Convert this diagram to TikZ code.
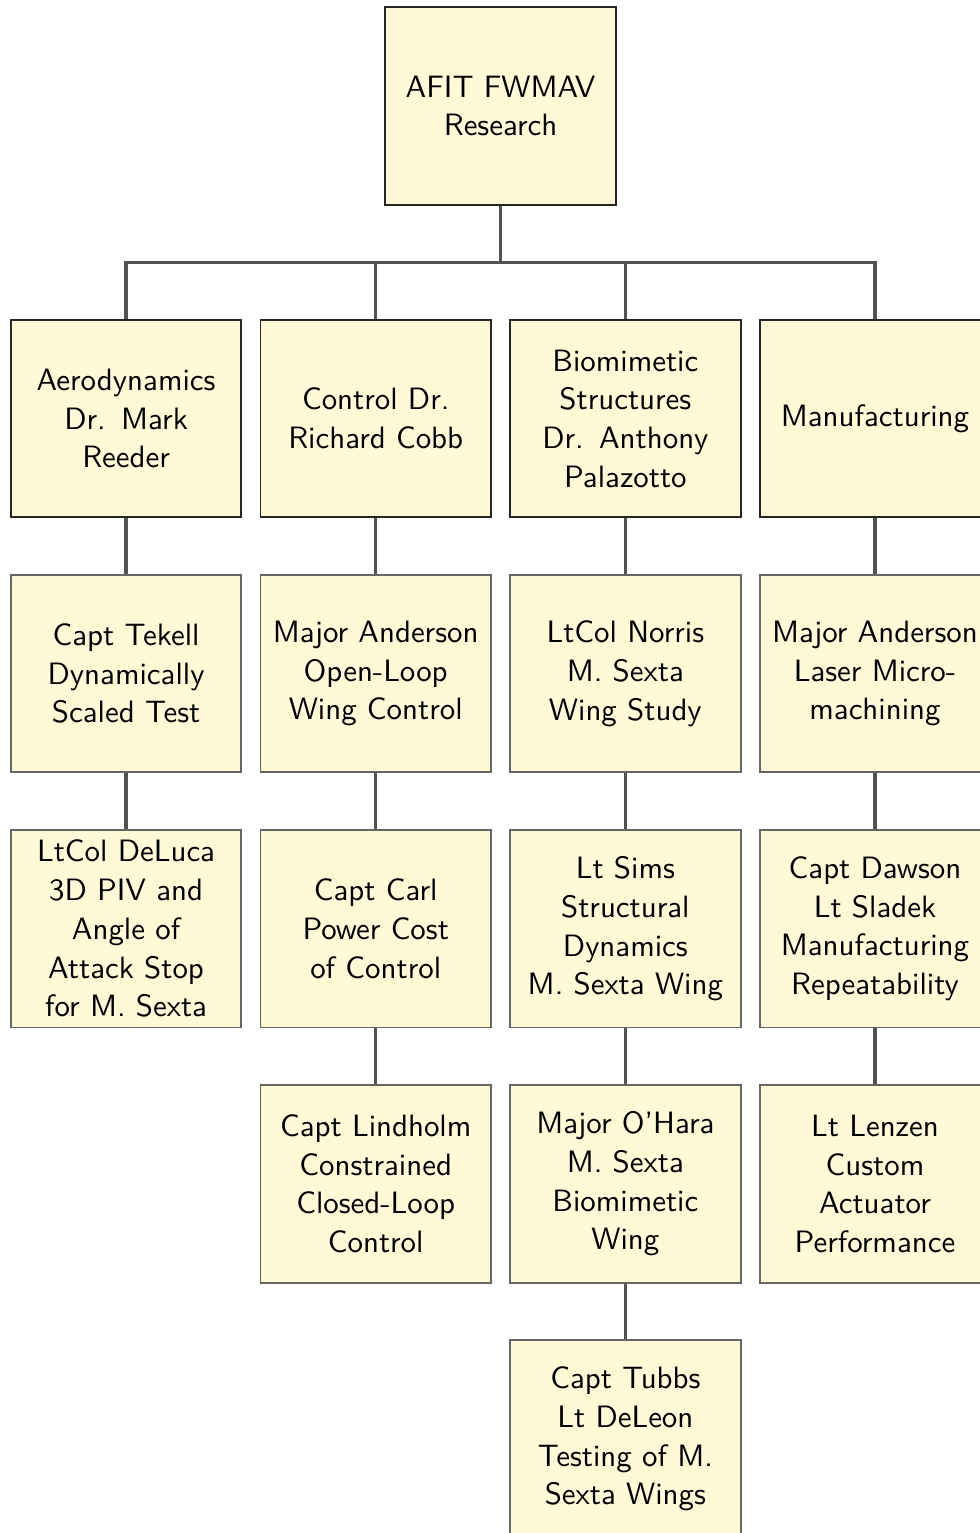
\documentclass[tikz,border=0pt]{standalone}
\usepackage{fontspec}
\usepackage{tikz}
\usetikzlibrary{positioning}
\definecolor{boxfill}{RGB}{255,249,214}
\tikzstyle{box}=[draw=black!60,line width=0.6pt,fill=boxfill,text width=66pt,align=center,inner xsep=3pt,inner ysep=3pt,minimum height=61.7pt,font=\sffamily\fontsize{9.65pt}{12.1pt}\selectfont]
\tikzstyle{head}=[box,draw=black!85]
\tikzstyle{link}=[draw=black!68,line width=1pt]

\begin{document}
\begin{tikzpicture}[node distance=17.4pt]
            \useasboundingbox (-156.4pt,33.1pt) rectangle (149.8pt,-445.9pt);
            \node (root) [head] {AFIT FWMAV\\Research};

            \node (aero) [head, below=35.4pt of root, xshift=-117pt] {Aerodynamics\\Dr.  Mark\\Reeder};
            \node (ctrl) [head, below=35.4pt of root, xshift=-39pt] {Control Dr.\\Richard Cobb};
            \node (bio) [head, below=35.4pt of root, xshift=39pt] {Biomimetic\\Structures\\Dr.  Anthony\\Palazotto};
            \node (manu) [head, below=35.4pt of root, xshift=117pt] {Manufacturing};

            \node (aero1) [box, below=of aero] {Capt Tekell\\Dynamically\\Scaled Test};
            \node (aero2) [box, below=of aero1] {LtCol DeLuca\\3D PIV and\\Angle of\\Attack Stop\\for M. Sexta};

            \node (ctrl1) [box, below=of ctrl] {Major Anderson\\Open-Loop\\Wing Control};
            \node (ctrl2) [box, below=of ctrl1] {Capt Carl\\Power Cost\\of Control};
            \node (ctrl3) [box, below=of ctrl2] {Capt Lindholm\\Constrained\\Closed-Loop\\Control};

            \node (bio1) [box, below=of bio] {LtCol Norris\\M. Sexta\\Wing Study};
            \node (bio2) [box, below=of bio1] {Lt Sims\\Structural\\Dynamics\\M. Sexta Wing};
            \node (bio3) [box, below=of bio2] {Major O'Hara\\M. Sexta\\Biomimetic\\Wing};
            \node (bio4) [box, below=of bio3] {Capt Tubbs\\Lt DeLeon\\Testing of M.\\Sexta Wings};

            \node (manu1) [box, below=of manu] {Major Anderson\\Laser Micro-\\machining};
            \node (manu2) [box, below=of manu1] {Capt Dawson\\Lt Sladek\\Manufacturing\\Repeatability};
            \node (manu3) [box, below=of manu2] {Lt Lenzen\\Custom\\Actuator\\Performance};

            \path[link] (root.south) -- ++(0,-17.8pt) -| (aero);
            \path[link] (root.south) -- ++(0,-17.8pt) -| (ctrl);
            \path[link] (root.south) -- ++(0,-17.8pt) -| (bio);
            \path[link] (root.south) -- ++(0,-17.8pt) -| (manu);

            \path[link] (aero) -- (aero1);
            \path[link] (aero1) -- (aero2);
            \path[link] (ctrl) -- (ctrl1);
            \path[link] (ctrl1) -- (ctrl2);
            \path[link] (ctrl2) -- (ctrl3);
            \path[link] (bio) -- (bio1);
            \path[link] (bio1) -- (bio2);
            \path[link] (bio2) -- (bio3);
            \path[link] (bio3) -- (bio4);
            \path[link] (manu) -- (manu1);
            \path[link] (manu1) -- (manu2);
            \path[link] (manu2) -- (manu3);
        \end{tikzpicture}
\end{document}
